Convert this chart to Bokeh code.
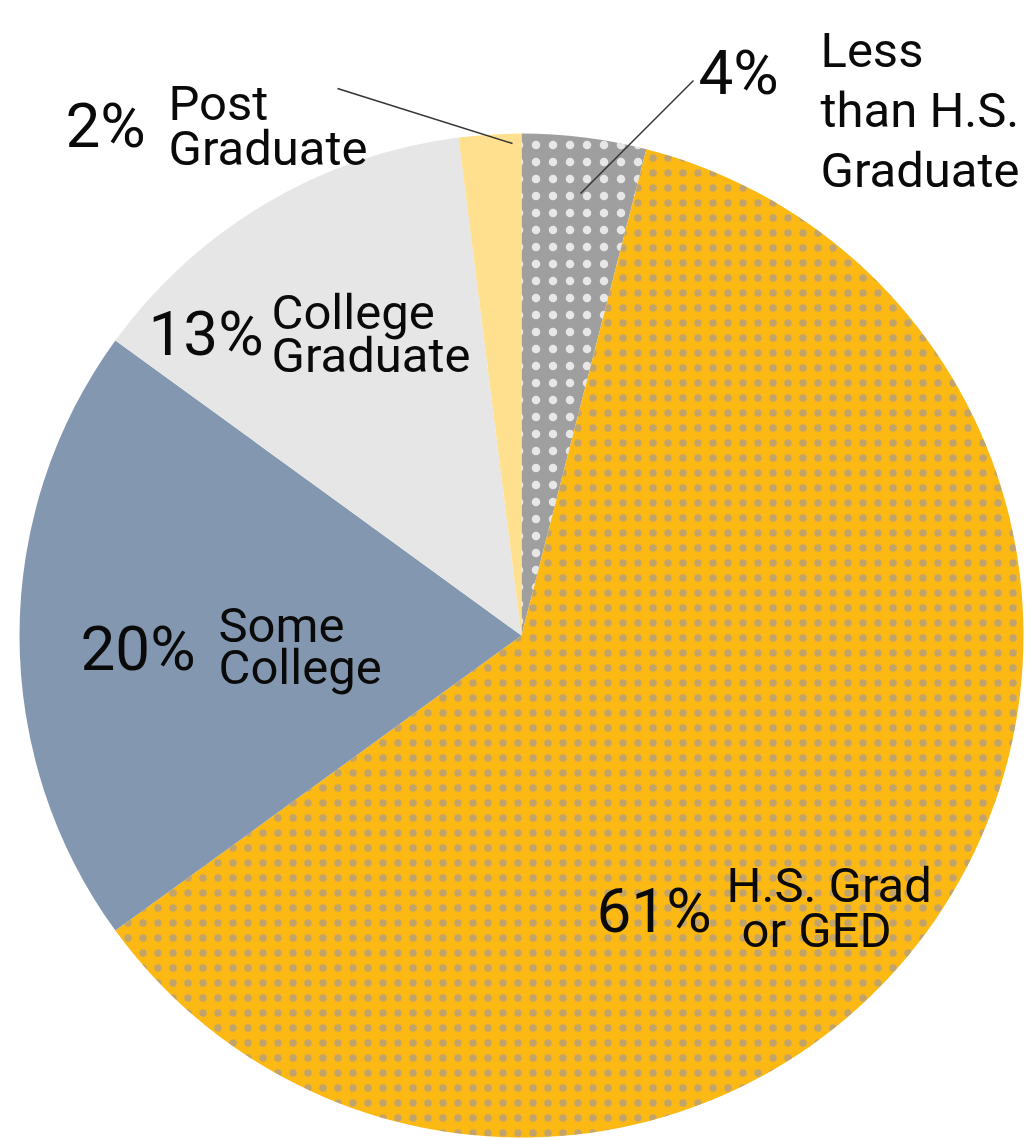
import math
from bokeh.plotting import figure
from bokeh.models import Range1d, ColumnDataSource
from bokeh.core.properties import value
from bokeh.embed import file_html
from bokeh.resources import INLINE

# ---- data ----
categories = ["Less than H.S. Graduate", "H.S. Grad or GED", "Some College",
              "College Graduate", "Post Graduate"]
shares = [4, 61, 20, 13, 2]
pct_labels = ["4%", "61%", "20%", "13%", "2%"]
name_lines = [["Less", "than H.S.", "Graduate"], ["H.S. Grad", "or GED"],
              ["Some", "College"], ["College", "Graduate"], ["Post", "Graduate"]]
colors = ["#9f9f9f", "#FDB913", "#8497B0", "#E6E6E6", "#FFE08E"]

W, H = 1034, 1140
CX, CY, R = 521, H - 635, 502
FONT = "Roboto"

p = figure(width=W, height=H, x_range=Range1d(0, W), y_range=Range1d(0, H),
           output_backend="svg", toolbar_location=None, min_border=0,
           x_axis_location=None, y_axis_location=None)
p.outline_line_color = None
p.grid.visible = False
p.background_fill_color = "white"
p.border_fill_color = "white"

total = float(sum(shares))
starts, ends = [], []
acc = 0.0
for s in shares:
    starts.append(math.pi / 2 - 2 * math.pi * acc / total)
    acc += s
    ends.append(math.pi / 2 - 2 * math.pi * acc / total)

src = ColumnDataSource(dict(start=starts, end=ends, color=colors, cat=categories))
p.wedge(x=CX, y=CY, radius=R, start_angle="start", end_angle="end",
        direction="clock", fill_color="color", line_color=None, source=src)
# pattern overlays
p.wedge(x=CX, y=CY, radius=R, start_angle=starts[0], end_angle=ends[0],
        direction="clock", fill_alpha=0, line_color=None,
        hatch_pattern="dot", hatch_color="#ffffff", hatch_alpha=0.75,
        hatch_scale=17, hatch_weight=3)
p.wedge(x=CX, y=CY, radius=R, start_angle=starts[1], end_angle=ends[1],
        direction="clock", fill_alpha=0, line_color=None,
        hatch_pattern="dot", hatch_color="#a99a8e", hatch_alpha=0.7,
        hatch_scale=15, hatch_weight=4)

# leader lines
p.line(x=[337, 512], y=[H - 88, H - 143], line_color="#333333", line_width=1.5)
p.line(x=[693, 580], y=[H - 80, H - 193], line_color="#333333", line_width=1.5)

PCT_SIZE = "62px"
LBL_SIZE = "49px"

# percent labels (x, baseline y in pixel coords)
pct_pos = [(698, 72), (596, 910), (80, 648), (148, 333), (65, 125)]
for txt, (x, y) in zip(pct_labels, pct_pos):
    p.text(x=[x], y=[H - y], text=[txt], text_font=value(FONT),
           text_font_size=PCT_SIZE, text_color="#0a0a0a",
           text_baseline="alphabetic", text_align="left")

# name labels
name_pos = [
    [(820, 50), (820, 110), (820, 170)],
    [(726, 885), (741, 930)],
    [(218, 625), (218, 667)],
    [(271, 312), (271, 355)],
    [(168, 103), (168, 148)],
]
for lines, poss in zip(name_lines, name_pos):
    for t, (x, y) in zip(lines, poss):
        p.text(x=[x], y=[H - y], text=[t], text_font=value(FONT),
               text_font_size=LBL_SIZE, text_color="#0a0a0a",
               text_baseline="alphabetic", text_align="left")

open("out.html", "w").write(file_html(p, INLINE))
